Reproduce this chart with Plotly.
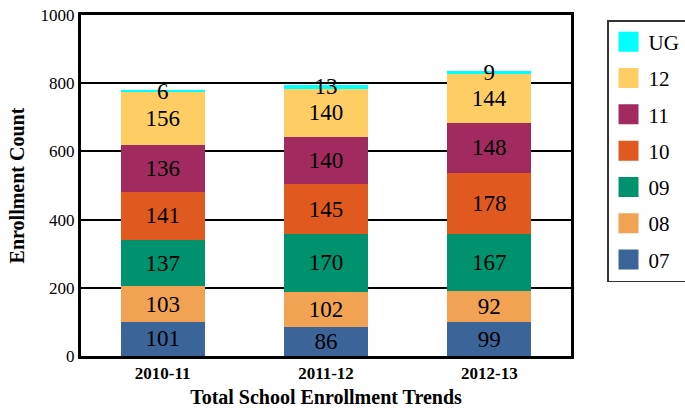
import plotly.graph_objects as go

years = ["2010-11", "2011-12", "2012-13"]
grades = ["07", "08", "09", "10", "11", "12", "UG"]
g07 = [101, 86, 99]
g08 = [103, 102, 92]
g09 = [137, 170, 167]
g10 = [141, 145, 178]
g11 = [136, 140, 148]
g12 = [156, 140, 144]
gUG = [6, 13, 9]
colors = ["#3b6499", "#f1a253", "#00926f", "#e05a1f", "#a12b5e", "#fece65", "#00ffff"]

series = [g07, g08, g09, g10, g11, g12, gUG]
FONT = "Liberation Serif"

fig = go.Figure()
for name, vals, col in zip(grades, series, colors):
    fig.add_trace(go.Bar(
        x=years, y=vals, name=name, marker=dict(color=col, line=dict(width=0)),
        text=[str(v) for v in vals], textposition="inside", insidetextanchor="middle",
        textangle=0, constraintext="none", cliponaxis=False,
        textfont=dict(family=FONT, size=23, color="black"),
        showlegend=False, hoverinfo="skip",
    ))
for name, col in reversed(list(zip(grades, colors))):
    fig.add_trace(go.Scatter(
        x=[None], y=[None], mode="markers", name=name, legendgroup=name,
        marker=dict(symbol="square", size=24, color=col, line=dict(color=col, width=4)),
        showlegend=True,
    ))

fig.update_layout(
    barmode="stack",
    bargap=0.485,
    width=685, height=408,
    margin=dict(l=81, r=114, t=15, b=52, autoexpand=False),
    plot_bgcolor="white", paper_bgcolor="white",
    font=dict(family=FONT, color="black"),
    uniformtext=dict(minsize=23, mode="show"),
    legend=dict(
        x=1.0735, y=0.985, xanchor="left", yanchor="top",
        traceorder="grouped", tracegroupgap=6,
        itemsizing="trace", entrywidth=28,
        font=dict(family=FONT, size=21, color="black"),
        bgcolor="white", bordercolor="#333", borderwidth=1.5,
    ),
    xaxis=dict(
        type="category",
        showline=True, mirror=True, linecolor="black", linewidth=3,
        tickfont=dict(family=FONT, size=17, weight="bold"),
        ticks="", showgrid=False,
        title=dict(text="Total School Enrollment Trends",
                   font=dict(family=FONT, size=20, weight="bold"), standoff=10),
    ),
    yaxis=dict(
        range=[0, 1000], dtick=200, showline=True, mirror=True,
        linecolor="black", linewidth=3,
        showgrid=True, gridcolor="black", gridwidth=2, zeroline=False,
        tickfont=dict(family=FONT, size=17), ticks="",
        title=dict(text="Enrollment Count",
                   font=dict(family=FONT, size=20, weight="bold"), standoff=11),
    ),
)

fig.write_html("out.html", config={"displayModeBar": False},
               post_script="document.body.style.margin='0';")
